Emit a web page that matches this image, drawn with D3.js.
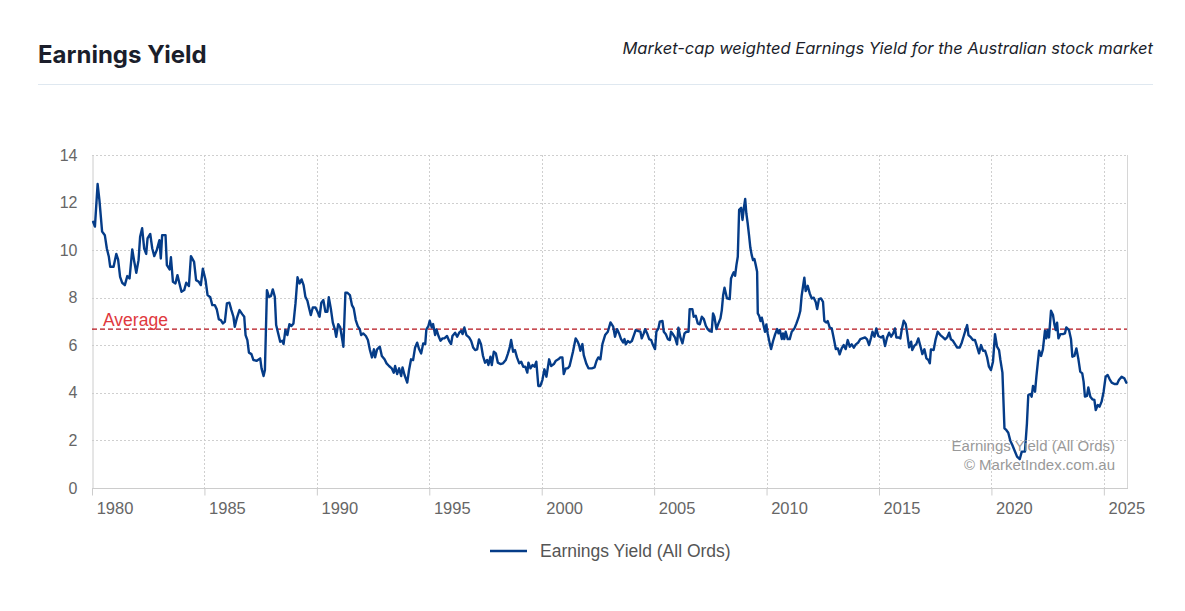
<!DOCTYPE html>
<html>
<head>
<meta charset="utf-8">
<script src="https://cdn.jsdelivr.net/npm/d3@7"></script>
<style>
  html, body { margin: 0; padding: 0; background: #fff; }
  svg { display: block; }
</style>
</head>
<body>
<svg id="chart" width="1185" height="611"></svg>
<script>
// ---------------- DATA ----------------
const title = "Earnings Yield";
const subtitle = "Market-cap weighted Earnings Yield for the Australian stock market";
const seriesName = "Earnings Yield (All Ords)";
const creditLines = ["Earnings Yield (All Ords)", "\u00A9 MarketIndex.com.au"];
const averageValue = 6.68;
const averageLabel = "Average";
const yTicks = [0, 2, 4, 6, 8, 10, 12, 14];
const xTicks = [1980, 1985, 1990, 1995, 2000, 2005, 2010, 2015, 2020, 2025];

// decimal years
const years = [
1980.05,1980.13,1980.25,1980.33,1980.45,1980.57,1980.66,1980.75,1980.81,1980.96,
1981.08,1981.16,1981.25,1981.34,1981.46,1981.57,1981.67,1981.79,1981.88,1981.97,
1982.07,1982.14,1982.23,1982.32,1982.41,1982.47,1982.59,1982.68,1982.77,1982.89,
1983.00,1983.06,1983.12,1983.27,1983.33,1983.45,1983.51,1983.60,1983.71,1983.80,
1983.89,1983.98,1984.10,1984.19,1984.31,1984.40,1984.54,1984.63,1984.75,1984.84,
1984.93,1985.05,1985.14,1985.26,1985.35,1985.46,1985.55,1985.64,1985.73,1985.82,
1985.91,1986.00,1986.11,1986.20,1986.29,1986.35,1986.44,1986.56,1986.68,1986.77,
1986.83,1986.91,1986.98,1987.09,1987.18,1987.33,1987.48,1987.54,1987.63,1987.69,
1987.78,1987.87,1987.96,1988.04,1988.13,1988.19,1988.28,1988.37,1988.46,1988.52,
1988.60,1988.69,1988.78,1988.87,1988.96,1989.05,1989.14,1989.23,1989.32,1989.41,
1989.49,1989.58,1989.64,1989.73,1989.82,1989.94,1990.03,1990.12,1990.20,1990.29,
1990.38,1990.47,1990.53,1990.62,1990.71,1990.80,1990.86,1990.95,1991.04,1991.12,
1991.18,1991.27,
1991.35,1991.47,1991.56,1991.64,1991.73,1991.82,1991.91,1991.97,1992.06,1992.18,
1992.27,1992.36,1992.45,1992.54,1992.59,1992.68,1992.80,1992.89,1993.01,1993.10,
1993.21,1993.33,1993.42,1993.48,1993.57,1993.66,1993.75,1993.81,1993.90,1994.02,
1994.10,1994.19,1994.28,1994.37,1994.46,1994.55,1994.64,1994.73,1994.82,1994.87,
1994.96,1995.02,1995.11,1995.17,1995.26,1995.32,1995.41,1995.50,1995.59,1995.67,
1995.79,1995.88,1995.97,1996.03,1996.15,1996.24,1996.33,1996.42,1996.48,1996.56,
1996.65,1996.77,1996.86,1996.95,1997.04,1997.13,1997.21,1997.30,1997.39,1997.48,
1997.57,1997.63,1997.72,1997.78,1997.87,1997.96,1998.05,1998.16,1998.28,1998.40,
1998.49,1998.58,1998.64,1998.73,1998.81,1998.90,1999.00,1999.09,1999.18,1999.27,
1999.36,1999.41,1999.50,1999.59,1999.68,1999.76,1999.85,1999.94,2000.03,2000.12,
2000.21,2000.33,2000.42,2000.54,2000.63,2000.74,2000.83,2000.92,2000.98,2001.07,
2001.16,2001.24,2001.33,2001.39,2001.45,2001.51,2001.60,2001.66,2001.72,2001.81,
2001.87,2001.99,2002.08,2002.23,2002.35,2002.44,2002.52,2002.61,2002.70,2002.82,
2002.94,2003.06,2003.18,2003.26,2003.35,2003.44,2003.53,2003.62,2003.68,2003.74,
2003.83,2003.92,2004.01,2004.09,2004.18,2004.30,2004.39,2004.45,2004.54,2004.60,
2004.69,2004.78,2004.87,2004.95,2005.04,2005.10,2005.19,2005.25,2005.37,2005.43,
2005.52,2005.61,2005.70,2005.75,2005.84,2005.93,2006.02,2006.08,2006.17,2006.26,
2006.35,2006.44,2006.53,2006.58,2006.70,2006.76,2006.85,2006.94,2007.03,2007.12,
2007.21,2007.30,2007.38,2007.47,2007.56,2007.62,2007.68,2007.77,2007.86,2007.95,
2008.01,2008.07,2008.13,2008.19,2008.24,2008.36,2008.42,2008.48,2008.54,2008.60,
2008.66,2008.72,2008.78,2008.87,2008.93,2008.99,2009.05,2009.10,2009.16,2009.22,
2009.28,2009.34,2009.40,2009.46,2009.52,2009.58,2009.61,2009.67,2009.73,2009.79,
2009.88,2009.93,2009.99,2010.05,2010.14,2010.20,2010.29,2010.38,2010.47,2010.53,
2010.59,2010.68,2010.73,2010.79,2010.85,2010.94,2011.03,2011.12,2011.24,2011.33,
2011.42,2011.50,2011.56,2011.62,2011.68,2011.74,2011.83,2011.92,2012.01,2012.10,
2012.19,2012.25,2012.33,2012.42,2012.51,2012.57,2012.66,2012.72,2012.81,2012.90,
2012.99,2013.08,2013.17,2013.25,2013.34,2013.43,2013.52,2013.61,2013.70,2013.79,
2013.88,2013.97,2014.08,2014.17,2014.26,
2014.38,2014.47,2014.56,2014.65,2014.71,2014.80,2014.88,2014.97,2015.09,2015.18,
2015.27,2015.36,2015.45,2015.54,2015.63,2015.71,2015.77,2015.86,2015.95,2016.01,
2016.10,2016.19,2016.25,2016.34,2016.43,2016.48,2016.57,2016.66,2016.75,2016.84,
2016.93,2017.02,2017.11,2017.20,2017.26,2017.31,2017.43,2017.52,2017.61,2017.73,
2017.85,2017.94,2018.03,2018.12,2018.20,2018.29,2018.38,2018.47,2018.59,2018.68,
2018.77,2018.86,2018.92,2018.98,2019.09,2019.18,2019.27,2019.36,2019.45,2019.54,
2019.63,2019.72,2019.81,2019.89,2019.98,2020.07,2020.16,2020.25,2020.34,2020.40,
2020.49,2020.58,2020.66,2020.75,2020.84,2020.93,2021.02,2021.14,2021.26,2021.35,
2021.49,2021.58,2021.64,2021.73,2021.79,2021.85,2021.94,2022.00,2022.06,2022.12,
2022.21,2022.29,2022.38,2022.44,2022.50,2022.56,2022.65,2022.74,2022.80,2022.86,
2022.92,2022.98,2023.07,2023.18,2023.27,2023.33,2023.45,2023.54,2023.60,2023.69,
2023.78,2023.87,2023.95,2024.04,2024.10,2024.16,2024.25,2024.31,2024.40,2024.49,
2024.58,2024.64,2024.73,2024.81,2024.90,2024.99,2025.08,2025.17,2025.26,2025.35,
2025.47,2025.59,2025.67,2025.79,2025.91,2026.00
];

// earnings yield, %
const yields = [
11.19,10.99,12.78,12.10,10.78,10.63,10.07,9.72,9.30,9.30,
9.84,9.61,8.88,8.63,8.53,8.91,8.81,10.03,9.51,9.05,
9.58,10.56,10.92,10.07,9.84,10.49,10.68,10.07,9.75,10.03,
10.42,9.65,10.63,10.63,9.37,9.19,9.70,8.67,8.60,8.95,
8.60,8.25,8.32,8.63,8.49,9.75,9.51,8.74,8.67,8.53,
9.22,8.74,8.11,8.02,7.69,7.69,7.51,7.09,7.06,6.92,
6.99,7.76,7.79,7.48,7.20,6.78,7.13,7.48,7.31,7.20,
6.43,6.22,5.69,5.63,5.38,5.35,5.45,5.03,4.71,4.96,
8.32,8.04,8.07,8.35,8.04,6.85,6.50,6.15,6.19,6.05,
6.64,6.43,6.89,6.81,6.92,7.76,8.86,8.60,8.77,8.53,
8.04,7.87,7.62,7.27,7.59,7.59,7.41,7.20,7.79,7.90,
7.41,7.41,8.02,7.55,6.95,6.67,6.36,6.89,6.75,6.29,
5.94,8.21,
8.21,8.11,7.69,7.55,7.06,6.81,6.67,6.43,6.50,6.39,
6.22,5.80,5.49,5.83,5.49,5.83,5.94,5.55,5.41,5.24,
5.13,5.03,4.85,5.13,4.79,5.03,4.71,5.07,4.75,4.43,
4.96,5.41,5.38,5.91,6.11,5.83,5.66,6.08,6.05,6.67,
6.81,7.03,6.75,6.89,6.43,6.67,6.39,6.19,6.29,6.29,
6.39,6.19,6.05,6.39,6.53,6.36,6.53,6.61,6.47,6.75,
6.43,6.33,6.19,5.91,5.80,5.83,6.25,6.05,5.55,5.27,
5.38,5.17,5.52,5.17,5.73,5.66,5.27,5.21,5.24,5.38,
5.63,5.91,6.22,5.73,5.80,5.49,5.24,5.31,5.10,5.10,
4.85,5.27,5.03,5.17,5.10,5.31,4.29,4.29,4.54,4.99,
4.68,5.41,5.13,5.21,5.35,5.41,5.49,5.49,4.79,5.03,
5.03,5.13,5.49,5.73,6.01,6.29,6.15,6.01,5.77,6.05,
5.59,5.21,5.03,5.03,5.07,5.35,5.49,5.41,6.05,6.43,
6.57,6.96,6.78,6.36,6.68,6.50,6.26,6.12,6.26,6.04,
6.18,6.12,6.18,6.40,6.64,6.60,6.57,6.29,6.50,6.68,
6.50,6.26,6.22,6.01,5.84,6.57,6.71,6.99,7.02,6.57,
6.46,6.26,6.22,6.57,6.46,6.32,6.04,6.74,6.32,6.08,
6.50,6.57,6.57,7.52,7.52,7.20,7.24,6.92,6.88,7.20,
7.10,6.82,6.68,6.60,6.57,7.34,7.20,6.68,6.92,7.13,
7.48,8.11,8.42,8.18,7.97,7.94,8.81,8.95,9.07,8.92,
9.37,9.72,11.69,11.78,11.27,11.76,12.15,11.55,11.13,10.63,
10.10,9.79,9.58,9.63,9.37,9.09,7.34,7.24,7.02,7.16,
6.78,6.57,6.88,6.50,6.08,5.84,6.18,6.46,6.68,6.50,
6.64,6.26,6.50,6.26,6.57,6.26,6.26,6.57,6.71,6.92,
7.16,7.44,8.08,8.46,8.84,8.28,8.50,8.18,7.97,8.00,
7.81,7.52,7.94,7.97,7.83,7.02,6.96,7.02,6.74,6.71,
6.29,5.84,5.87,5.62,5.87,6.01,5.84,6.22,5.94,6.04,
5.90,6.04,6.12,6.26,6.29,
6.33,6.25,6.01,6.33,6.57,6.36,6.71,6.39,6.33,6.39,
5.97,6.33,6.53,6.36,6.50,6.71,6.33,6.33,6.29,6.64,
7.03,6.89,6.53,5.91,6.15,5.80,5.97,6.05,6.29,5.97,
5.63,5.83,5.45,5.38,5.24,5.83,5.80,6.25,6.57,6.43,
6.33,6.25,6.33,6.53,6.25,6.19,6.05,5.91,5.91,6.11,
6.39,6.67,6.85,6.43,6.33,6.22,6.22,5.94,5.66,6.01,
5.77,5.77,5.49,5.10,4.96,5.31,6.47,5.94,5.80,5.38,
4.85,2.51,2.44,2.32,1.99,1.81,1.60,1.32,1.21,1.53,
1.53,2.72,3.91,3.95,3.84,4.29,4.05,4.68,5.24,5.77,
5.55,5.83,6.61,6.29,6.64,6.33,7.45,7.27,6.89,6.64,
6.95,6.29,6.47,6.47,6.50,6.75,6.64,6.25,5.52,5.55,
5.87,5.41,4.89,4.82,4.47,3.84,3.87,4.23,3.84,3.73,
3.70,3.28,3.49,3.42,3.63,4.05,4.68,4.75,4.57,4.43,
4.37,4.37,4.54,4.68,4.61,4.43
];

// ---------------- CHART ----------------
const svg = d3.select("#chart");
const plot = { left: 92, right: 1127, top: 155, bottom: 488 };

const x = d3.scaleLinear().domain([1980, 2026.03]).range([plot.left, plot.right]);
const y = d3.scaleLinear().domain([0, 14]).range([plot.bottom, plot.top]);

const axisFont = "'Liberation Sans', Arial, sans-serif";

// Header
svg.append("text")
  .attr("x", 38).attr("y", 63)
  .attr("font-family", "Inter, 'Open Sans', sans-serif")
  .attr("font-weight", 700).attr("font-size", 24)
  .attr("fill", "#1b1e2b")
  .text(title);

svg.append("text")
  .attr("x", 1153).attr("y", 54)
  .attr("text-anchor", "end")
  .attr("font-family", "Inter, 'Open Sans', sans-serif")
  .attr("font-style", "italic").attr("font-size", 16.5)
  .attr("fill", "#1b1e2b")
  .text(subtitle);

svg.append("line")
  .attr("x1", 38).attr("x2", 1153).attr("y1", 84.5).attr("y2", 84.5)
  .attr("stroke", "#dfe8f0").attr("stroke-width", 1);

// Grid lines
const grid = svg.append("g");
grid.selectAll("line.hg").data(yTicks.filter(v => v > 0)).join("line")
  .attr("x1", plot.left).attr("x2", plot.right)
  .attr("y1", d => Math.round(y(d)) + 0.5).attr("y2", d => Math.round(y(d)) + 0.5)
  .attr("stroke", "#cfcfcf").attr("stroke-dasharray", "2,2");
grid.selectAll("line.vg").data(xTicks.filter(v => v > 1980)).join("line")
  .attr("y1", plot.top).attr("y2", plot.bottom)
  .attr("x1", d => Math.round(x(d)) + 0.5).attr("x2", d => Math.round(x(d)) + 0.5)
  .attr("stroke", "#cfcfcf").attr("stroke-dasharray", "2,2");

// right border
svg.append("line")
  .attr("x1", plot.right + 0.5).attr("x2", plot.right + 0.5)
  .attr("y1", plot.top).attr("y2", plot.bottom)
  .attr("stroke", "#d6d6d6");

// Y axis
const yAxis = d3.axisLeft(y).tickValues(yTicks).tickSize(0).tickPadding(15);
const gy = svg.append("g").attr("transform", `translate(${plot.left + 0.5},0)`).call(yAxis);
gy.select(".domain").attr("stroke", "#cccccc");
gy.selectAll("text").attr("font-family", axisFont).attr("font-size", 16).attr("fill", "#666");

// X axis
const xAxis = d3.axisBottom(x).tickValues(xTicks).tickFormat(d3.format("d")).tickSize(7).tickPadding(7);
const gx = svg.append("g").attr("transform", `translate(0,${plot.bottom + 0.5})`).call(xAxis);
gx.select(".domain").attr("stroke", "#cccccc").attr("d", `M${plot.left},0H${plot.right + 1}`);
gx.selectAll(".tick line").attr("stroke", "#cccccc");
gx.selectAll("text")
  .attr("font-family", axisFont).attr("font-size", 16.5).attr("fill", "#666")
  .attr("x", (x(1981) - x(1980)));

// Average line
svg.append("line")
  .attr("x1", plot.left).attr("x2", plot.right)
  .attr("y1", y(averageValue)).attr("y2", y(averageValue))
  .attr("stroke", "#b5121b").attr("stroke-width", 1.2).attr("stroke-dasharray", "5,3");
svg.append("text")
  .attr("x", 103).attr("y", y(averageValue) - 3)
  .attr("font-family", axisFont).attr("font-size", 17.5)
  .attr("fill", "#e0393e")
  .text(averageLabel);

// Series
const data = years.map((t, i) => ({ t, v: yields[i] }));
const line = d3.line().x(d => x(d.t)).y(d => y(d.v));
svg.append("path")
  .datum(data)
  .attr("d", line)
  .attr("fill", "none")
  .attr("stroke", "#053c88")
  .attr("stroke-width", 2.4)
  .attr("stroke-linejoin", "round")
  .attr("stroke-linecap", "round");

// Credits
svg.selectAll("text.credit").data(creditLines).join("text")
  .attr("class", "credit")
  .attr("x", 1115).attr("y", (d, i) => 451 + i * 19)
  .attr("text-anchor", "end")
  .attr("font-family", axisFont).attr("font-size", 15)
  .attr("fill", "#999")
  .text(d => d);

// Legend
const lg = svg.append("g");
lg.append("line").attr("x1", 490).attr("x2", 527).attr("y1", 551).attr("y2", 551)
  .attr("stroke", "#053c88").attr("stroke-width", 2.4);
lg.append("text").attr("x", 540).attr("y", 557)
  .attr("font-family", axisFont).attr("font-size", 17.5).attr("fill", "#555")
  .text(seriesName);
</script>
</body>
</html>
